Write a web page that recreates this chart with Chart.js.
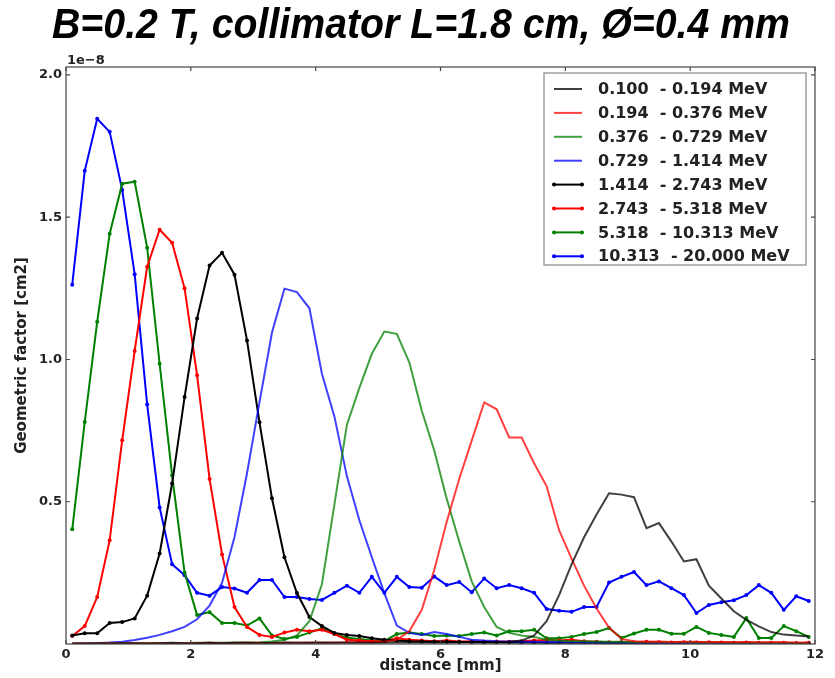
<!DOCTYPE html>
<html><head><meta charset="utf-8">
<script src="https://cdn.jsdelivr.net/npm/chart.js@4.4.1/dist/chart.umd.min.js"></script>
<style>html,body{margin:0;padding:0;background:#fff;}#wrap{width:835px;height:678px;position:relative;}</style>
</head><body><div id="wrap"><canvas id="c" width="835" height="678"></canvas></div>
<script>
const titleText = "B=0.2 T, collimator L=1.8 cm, Ø=0.4 mm";
const xTitle = "distance [mm]";
const yTitle = "Geometric factor [cm2]";
const exponentLabel = "1e\u22128";
const xTicks = [0, 2, 4, 6, 8, 10, 12];
const yTicks = [0.5, 1.0, 1.5, 2.0];

const distances = [0.1,0.3,0.5,0.7,0.9,1.1,1.3,1.5,1.7,1.9,2.1,2.3,2.5,2.7,2.9,3.1,3.3,3.5,3.7,3.9,4.1,4.3,4.5,4.7,4.9,5.1,5.3,5.5,5.7,5.9,6.1,6.3,6.5,6.7,6.9,7.1,7.3,7.5,7.7,7.9,8.1,8.3,8.5,8.7,8.9,9.1,9.3,9.5,9.7,9.9,10.1,10.3,10.5,10.7,10.9,11.1,11.3,11.5,11.7,11.9];

const labels = ["0.100  - 0.194 MeV","0.194  - 0.376 MeV","0.376  - 0.729 MeV","0.729  - 1.414 MeV","1.414  - 2.743 MeV","2.743  - 5.318 MeV","5.318  - 10.313 MeV","10.313  - 20.000 MeV"];

// values in units of 1e-8 cm2
const e0100 = [0.002,0.002,0.003,0.002,0.003,0.003,0.002,0.003,0.004,0.003,0.003,0.004,0.003,0.004,0.004,0.003,0.004,0.005,0.004,0.004,0.005,0.004,0.005,0.005,0.004,0.005,0.006,0.005,0.005,0.006,0.005,0.006,0.006,0.007,0.006,0.008,
  0.012,0.03,0.08,0.172,0.28,0.375,0.455,0.53,0.525,0.516,0.407,0.425,0.36,0.29,0.298,0.205,0.16,0.115,0.085,0.062,0.042,0.033,0.03,0.026];
const e0194 = [0.002,0.002,0.002,0.003,0.002,0.003,0.003,0.003,0.002,0.003,0.003,0.004,0.003,0.003,0.004,0.004,0.003,0.004,0.004,0.005,0.004,0.005,0.005,0.006,0.006,0.008,
  0.015,0.045,0.12,0.26,0.43,0.58,0.715,0.849,0.825,0.726,0.726,0.635,0.555,0.4,0.3,0.205,0.125,0.058,0.018,
  0.01,0.008,0.009,0.007,0.008,0.008,0.006,0.007,0.006,0.007,0.005,0.006,0.006,0.005,0.005];
const e0376 = [0.002,0.002,0.002,0.002,0.003,0.002,0.003,0.003,0.003,0.003,0.004,0.004,0.004,0.005,0.005,0.006,0.009,
  0.015,0.03,0.08,0.21,0.49,0.77,0.9,1.02,1.098,1.09,0.99,0.82,0.68,0.51,0.36,0.22,0.13,0.06,0.039,0.03,0.025,0.015,
  0.012,0.01,0.01,0.009,0.008,0.008,0.007,0.007,0.006,0.006,0.006,0.005,0.005,0.005,0.004,0.005,0.004,0.004,0.004,0.003,0.004];
const e0729 = [0.001,0.002,0.003,0.005,0.008,0.014,0.022,0.032,0.045,0.06,0.087,0.135,0.215,0.376,0.6,0.85,1.095,1.249,1.237,1.18,0.95,0.8,0.59,0.435,0.305,0.179,0.065,0.039,0.032,0.042,0.035,0.025,0.015,0.012,
  0.01,0.009,0.008,0.008,0.007,0.006,0.006,0.005,0.005,0.005,0.004,0.004,0.004,0.003,0.004,0.003,0.003,0.003,0.003,0.002,0.003,0.002,0.002,0.002,0.002,0.002];
const e1414 = [0.03,0.038,0.038,0.074,0.077,0.09,0.17,0.318,0.564,0.868,1.144,1.33,1.375,1.298,1.067,0.779,0.512,0.305,0.179,0.095,0.063,0.039,0.032,0.028,0.02,0.015,0.012,0.01,
  0.009,0.008,0.008,0.007,0.007,0.006,0.006,0.005,0.005,0.005,0.004,0.005,0.004,0.004,0.004,0.003,0.004,0.003,0.003,0.003,0.003,0.002,0.003,0.002,0.002,0.002,0.002,0.002,0.002,0.001,0.002,0.001];
const e2743 = [0.028,0.063,0.165,0.365,0.716,1.03,1.326,1.456,1.41,1.25,0.945,0.58,0.315,0.13,0.06,0.032,0.025,0.04,0.05,0.045,0.05,0.035,0.015,0.012,0.01,0.01,0.02,0.015,
  0.012,0.01,0.012,0.009,0.01,0.008,0.009,0.008,0.01,0.012,0.014,0.012,0.015,0.01,0.008,0.006,0.007,0.006,0.008,0.006,0.005,0.006,0.005,0.006,0.005,0.004,0.005,0.004,0.004,0.004,0.003,0.004];
const e5318 = [0.403,0.78,1.133,1.442,1.618,1.625,1.393,0.985,0.593,0.25,0.102,0.112,0.074,0.074,0.065,0.09,0.03,0.018,0.025,0.04,
  0.055,0.035,0.022,0.018,0.012,0.01,0.035,0.04,0.035,0.028,0.03,0.028,0.035,0.04,0.03,0.045,0.045,0.05,0.02,0.02,
  0.025,0.035,0.042,0.056,0.021,0.037,0.05,0.05,0.036,0.036,0.06,0.039,0.032,0.025,0.091,0.021,0.021,0.063,0.045,0.025];
const e10313 = [1.263,1.663,1.846,1.80,1.596,1.30,0.842,0.48,0.28,0.242,0.18,0.17,0.20,0.195,0.18,0.225,0.225,0.165,0.165,0.158,
  0.155,0.18,0.205,0.18,0.236,0.18,0.236,0.2,0.198,0.237,0.207,0.218,0.182,0.23,0.196,0.207,0.196,0.18,0.123,0.117,
  0.113,0.13,0.13,0.216,0.236,0.253,0.207,0.22,0.196,0.172,0.109,0.137,0.147,0.154,0.172,0.207,0.18,0.12,0.168,0.151];

const series = [e0100, e0194, e0376, e0729, e1414, e2743, e5318, e10313];
const colors = ['rgba(0,0,0,0.75)','rgba(255,0,0,0.75)','rgba(0,128,0,0.75)','rgba(0,0,255,0.75)','#000000','#ff0000','#008000','#0000ff'];
const markers = [false,false,false,false,true,true,true,true];

const FONT = '"DejaVu Sans", sans-serif';

const datasets = series.map((vals, i) => ({
  label: labels[i],
  data: vals.map((v, j) => ({x: distances[j], y: v})),
  borderColor: colors[i],
  backgroundColor: colors[i],
  borderWidth: 2,
  pointRadius: markers[i] ? 2 : 0,
  pointBorderWidth: 0,
  pointBackgroundColor: colors[i],
  tension: 0,
  fill: false
}));

const decor = {
  id: 'decor',
  afterDraw(chart) {
    const ctx = chart.ctx, a = chart.chartArea;
    const xs = chart.scales.x, ys = chart.scales.y;
    ctx.save();
    // frame
    ctx.strokeStyle = '#444';
    ctx.lineWidth = 1.2;
    ctx.strokeRect(a.left, a.top, a.right - a.left, a.bottom - a.top);
    // inward ticks
    ctx.beginPath();
    xTicks.forEach(t => { const p = xs.getPixelForValue(t);
      ctx.moveTo(p, a.bottom); ctx.lineTo(p, a.bottom - 4);
      ctx.moveTo(p, a.top); ctx.lineTo(p, a.top + 4); });
    yTicks.forEach(t => { const p = ys.getPixelForValue(t);
      ctx.moveTo(a.left, p); ctx.lineTo(a.left + 4, p);
      ctx.moveTo(a.right, p); ctx.lineTo(a.right - 4, p); });
    ctx.stroke();
    // exponent label
    ctx.fillStyle = '#222';
    ctx.font = 'bold 13px ' + FONT;
    ctx.textAlign = 'left'; ctx.textBaseline = 'alphabetic';
    ctx.fillText(exponentLabel, a.left + 1, a.top - 3);
    // title
    ctx.font = 'italic bold 42px "Liberation Sans", Arial, sans-serif';
    const w = ctx.measureText(titleText).width;
    ctx.save();
    ctx.translate(52, 38);
    ctx.scale(738 / w, 1);
    ctx.fillStyle = '#000';
    ctx.fillText(titleText, 0, 0);
    ctx.restore();
    // legend
    const lx = 544, ly = 73, lw = 262, lh = 192;
    ctx.fillStyle = '#fff';
    ctx.fillRect(lx, ly, lw, lh);
    ctx.strokeStyle = '#888'; ctx.lineWidth = 1.2;
    ctx.strokeRect(lx, ly, lw, lh);
    ctx.font = 'bold 16px ' + FONT;
    ctx.textBaseline = 'middle';
    chart.data.datasets.forEach((ds, i) => {
      const y = 89 + i * 23.9;
      ctx.strokeStyle = ds.borderColor; ctx.lineWidth = 2;
      ctx.beginPath(); ctx.moveTo(554, y); ctx.lineTo(582, y); ctx.stroke();
      if (markers[i]) {
        ctx.fillStyle = ds.borderColor;
        [554, 582].forEach(px => { ctx.beginPath(); ctx.arc(px, y, 2, 0, Math.PI * 2); ctx.fill(); });
      }
      ctx.fillStyle = '#222';
      ctx.fillText(ds.label, 598, y + 1);
    });
    ctx.restore();
  }
};

new Chart(document.getElementById('c'), {
  type: 'line',
  data: { datasets },
  options: {
    responsive: false,
    animation: false,
    devicePixelRatio: 1,
    layout: { padding: { left: 13, right: 20, top: 67, bottom: 0 } },
    plugins: { legend: { display: false }, tooltip: { enabled: false }, title: { display: false } },
    scales: {
      x: {
        type: 'linear', min: 0, max: 12,
        grid: { display: false, drawTicks: false },
        border: { display: false },
        ticks: { stepSize: 2, autoSkip: false, padding: 3, color: '#222', font: { family: FONT, weight: 'bold', size: 13 },
          callback: v => String(v) },
        title: { display: true, text: xTitle, color: '#222', font: { family: FONT, weight: 'bold', size: 15 }, padding: { top: 0, bottom: 3 } },
        afterFit: s => { s.height = 34; }
      },
      y: {
        type: 'linear', min: 0, max: 2.028,
        grid: { display: false, drawTicks: false },
        border: { display: false },
        ticks: { stepSize: 0.5, includeBounds: false, padding: 4, color: '#222', font: { family: FONT, weight: 'bold', size: 13 },
          callback: v => (v === 0 ? '' : v.toFixed(1)) },
        title: { display: true, text: yTitle, color: '#222', font: { family: FONT, weight: 'bold', size: 15 }, padding: { top: 0, bottom: 0 } },
        afterFit: s => { s.width = 53; }
      }
    }
  },
  plugins: [decor]
});
</script></body></html>
